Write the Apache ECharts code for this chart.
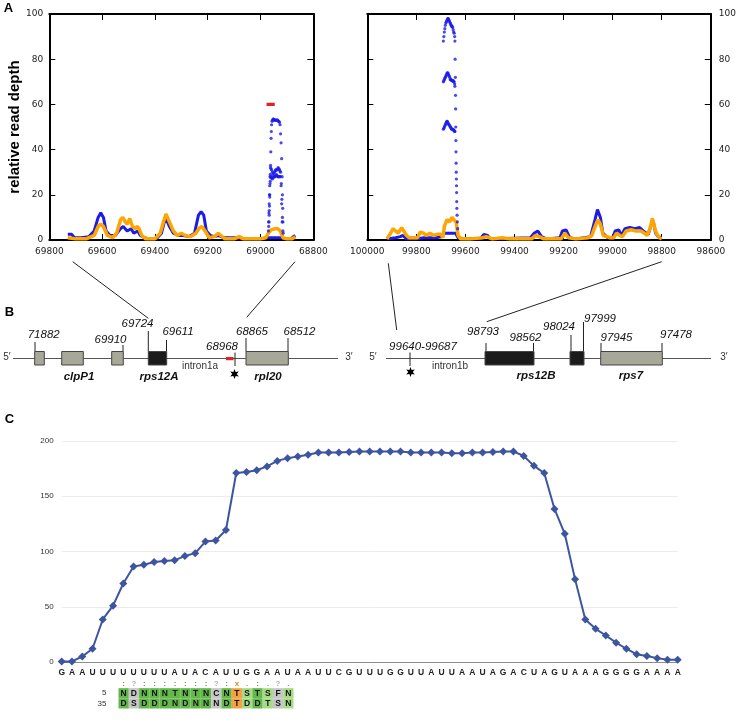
<!DOCTYPE html>
<html><head><meta charset="utf-8">
<script src="https://cdn.jsdelivr.net/npm/echarts@6/dist/echarts.min.js"></script>
<style>html,body{margin:0;padding:0;background:#fff}#c{width:739px;height:722px}</style>
</head><body><div id="c"></div>
<script>
// ---------------- DATA ----------------
// Panel A (left: 69800..68800, right: 100000..98600)  [position, relative read depth]
const blueLeft = [[69730,2.5],[69715,2.5],[69705,1],[69680,1],[69650,1.5],[69630,4],[69615,10],[69605,12],[69595,10],[69585,4],[69570,2],[69550,2],[69530,5],[69520,6],[69505,4],[69490,5],[69480,3],[69465,4],[69455,2],[69440,1],[69420,0.5],[69395,0.5],[69375,3],[69360,10],[69345,6],[69330,3],[69310,2],[69295,2],[69270,1.5],[69250,3],[69235,11],[69225,12.5],[69215,11],[69205,4],[69190,2],[69175,1.5],[69160,2],[69140,1],[69100,1],[69050,0.5],[69000,0.5],[68975,1],[68920,1],[68905,0.5],[68885,0.5],[68875,1.5],[68868,2]];
const orangeLeft = [[69730,1],[69700,0.5],[69660,0.5],[69630,2],[69615,6],[69605,7],[69595,6],[69580,2],[69560,1],[69545,3],[69530,9],[69522,10],[69512,8],[69505,7],[69495,9.5],[69485,6],[69475,5],[69467,6],[69460,5],[69450,2],[69435,0.5],[69400,0.5],[69380,3],[69365,9],[69358,11.5],[69345,8],[69330,4],[69315,2],[69300,3],[69285,2],[69265,1.5],[69245,3],[69230,5.5],[69222,6],[69210,4],[69195,1],[69175,1.5],[69160,3],[69150,2],[69135,0.5],[69100,0.5],[69080,1.5],[69065,0.5],[69000,0.5],[68980,1],[68970,3],[68960,4.5],[68945,5],[68935,5],[68925,4],[68915,1],[68900,0.5],[68880,0.5],[68868,1.5]];
const blueSpikeLeft1 = [[68968,8],[68967,11],[68966,15],[68965,20],[68964,25],[68963,29],[68962,33],[68961,39],[68960,45],[68959,48],[68958,51],[68956,52.5],[68955,53],[68952,53.5],[68950,53.5],[68947,53],[68945,53],[68942,53],[68940,53],[68937,53],[68935,53],[68932,52.5],[68930,52.5],[68928,52],[68926,51],[68924,47],[68922,43],[68920,36],[68918,28],[68917,20],[68916,14],[68915,8],[68914,3]];
const blueSpikeLeft2 = [[68970,4],[68969,8],[68968,12],[68967,16],[68966,20],[68965,24],[68964,28],[68962,32],[68960,31.5],[68958,31],[68955,30],[68953,29],[68950,29.5],[68948,30],[68945,30.5],[68943,31],[68940,31],[68938,31],[68935,31.5],[68933,32],[68930,31.5],[68928,31],[68926,30.5],[68924,30],[68921,25],[68919,18],[68917,10],[68915,4]];
const blueSpikeLeft3 = [[68969,6],[68967,13],[68965,19],[68963,26],[68961,27.5],[68960,28],[68957,27.5],[68955,27],[68952,27.5],[68950,28],[68947,28],[68945,28],[68942,28.5],[68940,29],[68937,28.5],[68935,28],[68932,28],[68930,28],[68927,28],[68925,28],[68922,24],[68920,16],[68918,8]];
const redBarLeft = [[68977,60],[68946,60]];

const blueRight = [[99920,0.5],[99885,1],[99865,1.5],[99855,2],[99840,0.5],[99800,0.5],[99770,1],[99720,1],[99695,1.5],[99690,3],[99640,3],[99630,1],[99600,0.5],[99540,0.5],[99525,2.5],[99510,2],[99500,0.5],[99470,0.5],[99335,1],[99320,3],[99305,4],[99290,1.5],[99270,0.5],[99215,1],[99205,4],[99190,4.5],[99175,1],[99150,0.5],[99090,1.5],[99072,9],[99062,13.5],[99050,10],[99040,3],[99020,1],[99000,1],[98990,4],[98975,4.5],[98965,2],[98950,5],[98930,5.5],[98910,5],[98890,5.5],[98870,3.5],[98855,2.5],[98842,7],[98834,8],[98825,3],[98815,1.5],[98800,1]];
const orangeRight = [[99920,0.5],[99905,3],[99895,5],[99885,4],[99874,3],[99860,5.5],[99852,6],[99840,2],[99830,1],[99795,1],[99785,3.5],[99770,3],[99760,2],[99745,3],[99730,2],[99715,2.5],[99700,2.5],[99692,1],[99686,6],[99675,9],[99665,8],[99655,10],[99648,9],[99638,8],[99630,2],[99620,0.5],[99580,0.5],[99530,1],[99515,1.5],[99490,0.5],[99450,1],[99420,0.5],[99330,0.5],[99315,2],[99300,1.5],[99280,0.5],[99210,0.5],[99195,3],[99180,1],[99150,0.5],[99100,1],[99085,2],[99068,7],[99060,9],[99050,7],[99038,2],[99010,1],[98995,1],[98985,3],[98970,2],[98960,1.5],[98945,4],[98925,4.5],[98905,4],[98885,4],[98870,3],[98860,2],[98848,5],[98838,9.5],[98830,6],[98822,3],[98810,1],[98800,0.5]];
const blueSpikeRight1 = [[99690,88],[99688,90],[99686,92],[99684,93.5],[99682,95],[99680,96],[99678,96.5],[99676,97],[99674,97.5],[99672,98],[99670,98],[99668,97.5],[99666,97],[99664,96.5],[99662,96],[99660,95.5],[99658,95],[99656,94.5],[99654,94.5],[99652,94],[99650,93],[99648,92],[99646,91.5],[99644,90],[99643,88],[99642,80],[99641,72],[99640.5,64],[99640,58],[99639.5,50],[99639,44],[99638.5,39],[99638,34],[99637.5,30],[99637,27],[99636.5,24],[99636,21],[99635.5,17],[99635,14],[99634,11],[99633,8],[99632,5]];
const blueSpikeRight2 = [[99690,70],[99688,70.5],[99686,71],[99684,71.5],[99682,72],[99680,72.5],[99678,73],[99676,73.5],[99674,74],[99672,74],[99670,73.5],[99668,73],[99666,72.5],[99664,72],[99662,71],[99660,71],[99658,71],[99656,70.5],[99654,70.5],[99652,70.5],[99650,70.5],[99648,70],[99646,70],[99644,69],[99643,68]];
const blueSpikeRight3 = [[99690,49],[99688,49.5],[99686,50],[99684,50.5],[99682,51],[99680,51.5],[99678,52],[99676,52.5],[99674,52.5],[99672,52],[99670,51.5],[99668,51],[99666,51],[99664,50.5],[99662,50],[99660,50],[99658,49.5],[99656,49],[99654,49],[99652,49],[99650,49],[99648,48.5],[99646,48.5],[99644,48],[99643,48]];

// Panel B labels
const coordLabelsLeft = ['71882','69910','69724','69611','68968','68865','68512'];
const geneNamesLeft = ['clpP1','rps12A','rpl20'];
const coordLabelsRight = ['99640-99687','98793','98562','98024','97999','97945','97478'];
const geneNamesRight = ['rps12B','rps7'];
const intronLabels = ['intron1a','intron1b'];

// Panel C
const seqLetters = 'GAAUUUUUUUUAUACAUUGGAAUAAUUCGUUUGGUUAUUAAUAGACUAGUAAAGGGGAAAA'.split('');
const signal = [0.5,0.5,5,12,38.5,51,71,86.5,88,90.5,91.5,92,96,98.5,109,110,119.5,171,172,173.5,177,182,184.5,186,187.5,189.5,189.5,189.5,190,190.5,190.5,190.5,190.5,190.5,189.5,189.5,189.5,189.5,189,189,189.5,189.5,190,190.5,190.5,186.5,177.5,171,138.5,116,75,38.5,30,24,17.5,12,7,5.5,3.5,2,2];
const pprRowLabels = ['5','35'];
const pprRow5 = 'NDNNNTNTNCNTSTSFN'.split('');
const pprRow35 = 'DSDDDNDNNNDTDDTSN'.split('');
const pprMatch = ':?:::::::?:x.:.?.'.split('');

// ---------------- STYLE / LAYOUT ----------------
const BLUE = '#1c1ce8', ORANGE = '#ffa500', RED = '#e32227', LINEC = '#3d55a0';
const cellColor = {':':'#63b84a', '.':'#a6da84', '?':'#c6c6c6', 'x':'#f4a043'};
const symColor = {':':'#4e9a2c', '.':'#6cb04e', '?':'#b0b0b0', 'x':'#ee8a22'};

const chart = echarts.init(document.getElementById('c'));

function fx(grid, min, max, pos, labels) {
  return {gridIndex:grid, type:'value', min:min, max:max, interval:200, inverse:true, position:pos,
    axisLine:{show:true, onZero:false, lineStyle:{color:'#000', width:2}},
    axisTick:{show:true, inside:true, length:6, lineStyle:{color:'#000', width:1}},
    axisLabel:{show:labels, color:'#222', fontSize:9, fontFamily:'DejaVu Sans', margin:7, formatter:v => String(v)},
    splitLine:{show:false}};
}
function fy(grid, pos, labels, extra) {
  return Object.assign({gridIndex:grid, type:'value', min:0, max:100, interval:20, position:pos,
    axisLine:{show:true, onZero:false, lineStyle:{color:'#000', width:2}},
    axisTick:{show:true, inside:true, length:6, lineStyle:{color:'#000', width:1}},
    axisLabel:{show:labels, color:'#222', fontSize:9, fontFamily:'DejaVu Sans', margin:pos==='left'?6:8},
    splitLine:{show:false}}, extra||{});
}
function lineS(xi, yi, data, color, w, z) {
  return {type:'line', xAxisIndex:xi, yAxisIndex:yi, data:data, showSymbol:false, symbol:'none',
    lineStyle:{color:color, width:w}, itemStyle:{color:color}, z:z, silent:true, animation:false};
}
function dotS(xi, yi, data) {
  return {type:'scatter', xAxisIndex:xi, yAxisIndex:yi, data:data, symbolSize:3.2,
    itemStyle:{color:BLUE}, z:4, silent:true, animation:false};
}

// alignment items
const alignItems = [];
for (let c = 0; c < pprMatch.length; c++) {
  alignItems.push([c, 0, pprMatch[c]]);
  alignItems.push([c, 1, pprRow5[c]]);
  alignItems.push([c, 2, pprRow35[c]]);
}

// ---------- Panel B graphics ----------
const G = [];
function txt(x, y, s, font, fill, align) {
  G.push({type:'text', x:x, y:y, style:{text:s, font:font, fill:fill||'#111', align:align||'center', verticalAlign:'middle'}, silent:true});
}
function ln(x1, y1, x2, y2, col, w) {
  G.push({type:'line', shape:{x1:x1, y1:y1, x2:x2, y2:y2}, style:{stroke:col||'#222', lineWidth:w||1}, silent:true});
}
function box(x0, x1, kind) {
  G.push({type:'rect', shape:{x:x0, y:351.5, width:x1-x0, height:13.5},
    style:{fill: kind==='black' ? '#1b1b1b' : '#a8a899', stroke:'#444', lineWidth:1}, silent:true, z:5});
}
function star(cx, cy, r) {
  const pts = [];
  for (let i = 0; i < 12; i++) {
    const a = -Math.PI/2 + i*Math.PI/6;
    const rr = i % 2 === 0 ? r : r*0.45;
    pts.push([cx + rr*Math.cos(a), cy + rr*Math.sin(a)]);
  }
  G.push({type:'polygon', shape:{points:pts}, style:{fill:'#000'}, silent:true, z:6});
}
const itF = 'italic 11.5px "Liberation Sans"';
const giF = 'italic bold 11.5px "Liberation Sans"';
const plF = '10px "Liberation Sans"';

// panel letters
txt(8.5, 8, 'A', 'bold 13px "Liberation Sans"', '#000');
txt(9.5, 312, 'B', 'bold 13px "Liberation Sans"', '#000');
txt(9.5, 419, 'C', 'bold 13px "Liberation Sans"', '#000');

// connectors
const connectors = [[72.7,261.7,148.3,318.3],[295,261.7,246.7,317.3],[388.3,263.3,396.7,330],[661.7,261.7,486.7,321.7]];
connectors.forEach(c => ln(c[0], c[1], c[2], c[3], '#222', 1));

// left map
ln(13, 358.5, 338, 358.5, '#555', 1);
txt(7, 357, '5\u2032', plF, '#333');
txt(349, 357, '3\u2032', plF, '#333');
const leftBoxes = [[34.7,44.3,'grey'],[61.7,83.3,'grey'],[111.7,123.3,'grey'],[148.3,166.7,'black'],[246,288.3,'grey']];
leftBoxes.forEach(b => box(b[0], b[1], b[2]));
G.push({type:'rect', shape:{x:226, y:357, width:7.5, height:3.2}, style:{fill:RED}, silent:true, z:6});
const leftTicks = [[35,342,43.7,335],[123,345,110.5,340],[148.3,331,137.5,324],[166.5,340,178,332],[235,352.5,222,346.5],[246,338,252,332],[288,338,299.5,332]];
leftTicks.forEach((t, i) => {
  if (i === 4) ln(t[0], 352.5, t[0], 366, '#222', 1); else ln(t[0], 351.5, t[0], t[1], '#222', 1);
  txt(t[2], t[3], coordLabelsLeft[i], itF, '#111');
});
star(234.5, 374, 5);
const leftGenePos = [[79,376.5],[159,376.5],[268,376.5]];
geneNamesLeft.forEach((g, i) => txt(leftGenePos[i][0], leftGenePos[i][1], g, giF, '#111'));
txt(200, 366.5, intronLabels[0], '10px "Liberation Sans"', '#333');

// right map
ln(386, 358.5, 711, 358.5, '#555', 1);
txt(373, 357, '5\u2032', plF, '#333');
txt(724, 357, '3\u2032', plF, '#333');
const rightBoxes = [[485,534,'black'],[570,584,'black'],[600.7,662.3,'grey']];
rightBoxes.forEach(b => box(b[0], b[1], b[2]));
const rightTicks = [[410,352.5,423,346.5],[486,343,483,331.5],[533.5,343,525.5,337.5],[571,335,559,326.5],[583.5,322,600,318.5],[601,343,616.5,337.5],[662,343,676,335]];
rightTicks.forEach((t, i) => {
  if (i === 0) ln(t[0], 352.5, t[0], 366, '#222', 1); else ln(t[0], 351.5, t[0], t[1], '#222', 1);
  txt(t[2], t[3], coordLabelsRight[i], itF, '#111');
});
star(410.5, 372, 5);
const rightGenePos = [[536,375.5],[631,375.5]];
geneNamesRight.forEach((g, i) => txt(rightGenePos[i][0], rightGenePos[i][1], g, giF, '#111'));
txt(450, 366, intronLabels[1], '10px "Liberation Sans"', '#333');

const option = {
  animation:false,
  textStyle:{fontFamily:'Liberation Sans'},
  grid:[
    {left:49.3, top:14, width:264, height:226},
    {left:367.3, top:14, width:344.5, height:226},
    {left:61.7, top:441, width:616, height:221},
    {left:118.5, top:678, width:175, height:30.5}
  ],
  xAxis:[
    fx(0, 68800, 69800, 'bottom', true),
    fx(0, 68800, 69800, 'top', false),
    fx(1, 98600, 100000, 'bottom', true),
    fx(1, 98600, 100000, 'top', false),
    {gridIndex:2, type:'category', data:seqLetters.map((s,i)=>String(i)), boundaryGap:false,
      axisLine:{show:true, lineStyle:{color:'#8a8a8a', width:1}}, axisTick:{show:false},
      axisLabel:{interval:0, formatter:(v,i)=>seqLetters[i], fontSize:8.5, fontWeight:'bold', color:'#222', margin:6},
      splitLine:{show:false}},
    {gridIndex:3, type:'category', data:pprMatch.map((s,i)=>String(i)), boundaryGap:true,
      axisLine:{show:false}, axisTick:{show:false}, axisLabel:{show:false}, splitLine:{show:false}}
  ],
  yAxis:[
    fy(0, 'left', true, {name:'relative read depth', nameLocation:'middle', nameGap:24,
      nameTextStyle:{fontSize:15, fontWeight:'bold', color:'#000', fontFamily:'Liberation Sans'}}),
    fy(0, 'right', false),
    fy(1, 'left', false),
    fy(1, 'right', true),
    {gridIndex:2, type:'value', min:0, max:200, interval:50,
      axisLine:{show:false}, axisTick:{show:false},
      axisLabel:{fontSize:8, color:'#333', margin:8},
      splitLine:{show:true, lineStyle:{color:'#ececec', width:1}}},
    {gridIndex:3, type:'category', data:['', pprRowLabels[0], pprRowLabels[1]], inverse:true,
      axisLine:{show:false}, axisTick:{show:false},
      axisLabel:{interval:0, fontSize:8, color:'#333', margin:12}, splitLine:{show:false}}
  ],
  series:[
    lineS(0, 0, blueLeft, BLUE, 3, 2),
    lineS(0, 0, orangeLeft, ORANGE, 3.5, 3),
    dotS(0, 0, blueSpikeLeft1), dotS(0, 0, blueSpikeLeft2), dotS(0, 0, blueSpikeLeft3),
    lineS(0, 0, redBarLeft, RED, 3.2, 5),
    lineS(2, 3, blueRight, BLUE, 3, 2),
    lineS(2, 3, orangeRight, ORANGE, 3.5, 3),
    dotS(2, 3, blueSpikeRight1), dotS(2, 3, blueSpikeRight2), dotS(2, 3, blueSpikeRight3),
    {type:'line', xAxisIndex:4, yAxisIndex:4, data:signal, symbol:'diamond', symbolSize:8, showSymbol:true,
      lineStyle:{color:LINEC, width:2}, itemStyle:{color:LINEC}, silent:true},
    {type:'custom', xAxisIndex:5, yAxisIndex:5, data:alignItems, silent:true,
      renderItem:function(params, api){
        const c = api.value(0), r = api.value(1);
        const p = api.coord([c, r]);
        const sz = api.size([1, 1]);
        const it = alignItems[params.dataIndex];
        const cls = pprMatch[it[0]];
        if (it[1] === 0) {
          return {type:'text', style:{x:p[0], y:p[1]+1, text:it[2], fill:symColor[cls],
            font:'bold 8px "Liberation Sans"', align:'center', verticalAlign:'middle'}};
        }
        return {type:'group', children:[
          {type:'rect', shape:{x:p[0]-sz[0]/2, y:p[1]-sz[1]/2, width:sz[0], height:sz[1]}, style:{fill:cellColor[cls]}},
          {type:'text', style:{x:p[0], y:p[1]+0.5, text:it[2], fill:'#111', font:'bold 8.5px "Liberation Sans"', align:'center', verticalAlign:'middle'}}
        ]};
      }}
  ],
  graphic:G
};
chart.setOption(option);
</script></body></html>
